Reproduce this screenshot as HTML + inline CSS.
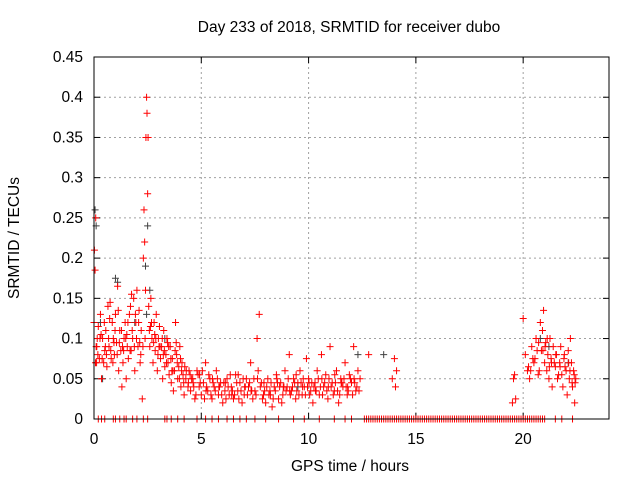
<!DOCTYPE html>
<html><head><meta charset="utf-8"><style>
html,body{margin:0;padding:0;background:#fff;}
svg{display:block;font-family:"Liberation Sans",sans-serif;}
</style></head><body>
<svg id="c" width="640" height="480">
<text x="349" y="32" font-size="15.5" text-anchor="middle">Day 233 of 2018, SRMTID for receiver dubo</text>
<text x="350" y="471" font-size="15.5" text-anchor="middle">GPS time / hours</text>
<text x="19" y="238" font-size="15.5" text-anchor="middle" transform="rotate(-90 19 238)">SRMTID / TECUs</text>
<g id="grid"></g>
<g id="ticks"></g>
<g id="pts"></g>
<rect x="94" y="57" width="515" height="362" fill="none" stroke="#000" stroke-width="1"/>
</svg>
<script>
const xTicks=[0,5,10,15,20];
const yTicks=[0,0.05,0.1,0.15,0.2,0.25,0.3,0.35,0.4,0.45];
const yTickLabels=["0","0.05","0.1","0.15","0.2","0.25","0.3","0.35","0.4","0.45"];
const redX=[0.0,0.02,0.05,0.08,0.1,0.12,0.15,0.2,0.25,0.3,0.35,0.4,0.45,0.5,0.55,0.6,0.65,0.7,0.75,0.8,0.85,0.9,0.95,1.0,1.05,1.1,1.15,1.2,1.25,1.3,1.35,1.4,1.45,1.5,1.55,1.6,1.65,1.7,1.75,1.8,1.85,1.9,1.95,2.0,2.05,2.1,2.15,2.2,2.25,2.3,2.33,2.36,2.4,2.42,2.45,2.47,2.5,2.52,2.55,2.6,2.65,2.7,2.75,2.8,2.85,2.9,2.95,3.0,3.05,3.1,3.15,3.2,3.25,3.3,3.35,3.4,3.45,3.5,3.55,3.6,3.65,3.7,3.75,3.8,3.85,3.9,3.95,4.0,4.05,4.1,4.15,4.2,4.3,4.4,4.5,4.6,4.7,4.8,4.9,5.0,5.1,5.2,5.3,5.4,5.5,5.6,5.7,5.8,5.9,6.0,6.1,6.2,6.3,6.4,6.5,6.6,6.7,6.8,6.9,7.0,7.1,7.2,7.3,7.4,7.5,7.6,7.7,7.8,7.9,8.0,8.1,8.2,8.3,8.4,8.5,8.6,8.7,8.8,8.9,9.0,9.1,9.2,9.3,9.4,9.5,9.6,9.7,9.8,9.9,10.0,10.1,10.2,10.3,10.4,10.5,10.6,10.7,10.8,10.9,11.0,11.1,11.2,11.3,11.4,11.5,11.6,11.7,11.8,11.9,12.0,12.1,12.2,12.3,12.4,12.8,13.9,14.0,14.1,14.05,19.5,19.55,19.6,19.65,20.0,20.1,20.2,20.3,20.4,20.5,20.6,20.7,20.8,20.85,20.9,20.95,21.0,21.05,21.1,21.15,21.2,21.25,21.3,21.35,21.4,21.5,21.55,21.6,21.7,21.75,21.8,21.85,21.9,22.0,22.05,22.1,22.15,22.2,22.25,22.3,22.35,22.4,22.45,
4.55,4.65,4.75,4.85,4.95,5.05,5.15,5.25,5.35,5.45,5.55,5.65,5.75,5.85,5.95,6.05,6.15,6.25,6.35,6.45,6.55,6.65,6.75,6.85,6.95,7.05,7.15,7.25,7.35,7.45,7.55,7.65,7.75,7.85,7.95,8.05,8.15,8.25,8.35,8.45,8.55,8.65,8.75,8.85,8.95,9.05,9.15,9.25,9.35,9.45,9.55,9.65,9.75,9.85,9.95,10.05,10.15,10.25,10.35,10.45,10.55,10.65,10.75,10.85,10.95,11.05,11.15,11.25,11.35,11.45,11.55,11.65,11.75,11.85,11.95,12.05,12.15,12.25,12.35,
0.07,0.18,0.28,0.38,0.48,0.58,0.68,0.78,0.88,0.98,1.08,1.18,1.28,1.38,1.48,1.58,1.68,1.78,1.88,1.98,2.08,2.18,2.28,2.38,2.58,2.68,2.78,2.88,2.98,3.08,3.18,3.28,3.38,3.48,3.58,3.68,3.78,3.88,3.98,4.08,4.18,4.28,4.38,4.48,
20.25,20.45,20.65,20.75,21.02,21.22,21.45,21.65,21.95,22.12,22.28,22.38,
0.13,0.33,0.53,0.73,0.93,1.13,1.33,1.53,1.73,1.93,2.13,2.63,2.83,3.03,3.23,3.43,3.63,3.83,4.03,4.23,4.43,
4.62,4.92,5.22,5.52,5.82,6.12,6.42,6.72,7.02,7.32,7.62,7.92,8.22,8.52,8.82,9.12,9.42,9.72,10.02,10.32,10.62,10.92,11.22,11.52,11.82,12.12,
20.35,20.55,20.72,20.92,21.12,21.32,21.52,21.72,21.92,22.18,22.42];
const redY=[.12,.21,.185,.25,.09,.07,.1,.115,.075,.13,.05,.1,.07,.085,.11,.065,.14,.09,.145,.075,.12,.1,.08,.13,.095,.165,.06,.11,.085,.04,.07,.1,.12,.05,.09,.075,.13,.14,.155,.1,.15,.06,.12,.16,.09,.135,.07,.11,.025,.2,.26,.22,.16,.35,.4,.38,.28,.35,.14,.09,.15,.1,.07,.12,.085,.13,.06,.1,.115,.075,.09,.05,.11,.065,.08,.1,.07,.055,.09,.045,.075,.035,.06,.12,.08,.05,.065,.09,.04,.07,.055,.03,.06,.045,.035,.05,.025,.06,.04,.03,.045,.07,.035,.05,.025,.04,.06,.03,.045,.02,.035,.05,.03,.04,.025,.055,.035,.045,.02,.03,.05,.04,.07,.025,.035,.1,.13,.045,.03,.02,.05,.035,.015,.04,.055,.025,.045,.03,.06,.04,.08,.035,.05,.025,.045,.06,.03,.04,.075,.05,.035,.02,.045,.06,.03,.08,.04,.055,.025,.09,.045,.035,.06,.02,.05,.04,.07,.03,.055,.045,.09,.035,.06,.05,.08,.05,.075,.06,.04,.02,.05,.055,.025,.125,.08,.06,.05,.09,.07,.1,.055,.12,.085,.11,.135,.07,.095,.06,.08,.05,.1,.075,.04,.09,.065,.08,.05,.07,.09,.055,.04,.075,.06,.03,.085,.05,.1,.07,.04,.06,.02,.05,
.05,.04,.03,.055,.045,.06,.025,.04,.055,.03,.045,.035,.05,.04,.03,.045,.025,.04,.055,.035,.03,.045,.025,.035,.05,.04,.03,.045,.035,.05,.03,.06,.04,.025,.035,.04,.03,.045,.025,.035,.045,.04,.02,.04,.035,.05,.03,.04,.045,.035,.03,.045,.05,.03,.04,.03,.045,.04,.035,.05,.04,.03,.045,.035,.05,.04,.03,.045,.035,.03,.045,.05,.04,.035,.05,.03,.045,.04,.035,
.07,.08,.1,.075,.12,.08,.1,.085,.07,.11,.08,.095,.11,.085,.1,.12,.085,.11,.09,.1,.12,.08,.09,.1,.11,.12,.095,.1,.08,.09,.1,.085,.07,.09,.075,.06,.085,.07,.05,.06,.045,.05,.04,.055,
.065,.075,.085,.06,.09,.065,.07,.055,.065,.07,.045,.055,
.09,.105,.09,.125,.095,.135,.09,.105,.085,.13,.095,.115,.105,.09,.08,.095,.06,.095,.075,.065,.06,
.045,.055,.035,.05,.04,.045,.03,.055,.04,.035,.05,.045,.03,.05,.04,.035,.055,.04,.045,.035,.05,.04,.055,.045,.04,.05,
.06,.075,.095,.085,.1,.07,.08,.065,.08,.06,.045];
const grayX=[0.05,0.1,0.3,1.0,1.1,2.4,2.5,2.45,2.6,3.3,0.4,1.9,12.3,13.5,20.8,21.2,22.1,9.5];
const grayY=[.26,.24,.12,.175,.17,.19,.24,.13,.16,.1,.05,.12,.08,.08,.1,.09,.07,.04];
const zeroX=[0.2,0.35,0.5,0.9,1.0,1.2,1.4,1.5,1.8,2.0,2.3,2.5,3.3,3.4,3.6,3.9,4.2,4.8,5.2,5.5,5.8,6.2,6.5,6.8,7.1,7.5,8.0,8.6,9.3,9.8,10.5,11.2,11.7,12.0,12.6,12.7,12.8,12.9,13.0,13.1,13.2,13.3,13.4,13.5,13.6,13.7,13.8,13.9,14.0,14.1,14.2,14.3,14.4,14.5,14.6,14.7,14.8,14.9,15.0,15.1,15.2,15.3,15.4,15.5,15.6,15.7,15.8,15.9,16.0,16.1,16.2,16.3,16.4,16.5,16.6,16.7,16.8,16.9,17.0,17.1,17.2,17.3,17.4,17.5,17.6,17.7,17.8,17.9,18.0,18.1,18.2,18.3,18.4,18.5,18.6,18.7,18.8,18.9,19.0,19.1,19.2,19.3,19.4,19.5,19.6,19.7,19.8,19.9,20.0,20.1,20.2,20.3,20.4,20.5,20.6,20.7,20.8,20.9,21.0,21.5,21.8,22.3];
const X0=94,X1=609,Y0=419,Y1=57;
const sx=v=>X0+v/24*(X1-X0);
const sy=v=>Y0-v/0.45*(Y0-Y1);
const NS='http://www.w3.org/2000/svg';
function mk(tag,attrs,parent){const e=document.createElementNS(NS,tag);for(const k in attrs)e.setAttribute(k,attrs[k]);parent.appendChild(e);return e;}
const grid=document.getElementById('grid'),ticks=document.getElementById('ticks'),pts=document.getElementById('pts');
xTicks.forEach(t=>{const x=sx(t);
 if(t>0){const g=mk('line',{x1:x,x2:x,y1:Y1,y2:Y0,stroke:'#a0a0a0','stroke-dasharray':'2,3'},grid);}
 mk('line',{x1:x,x2:x,y1:Y0,y2:Y0-6,stroke:'#000'},ticks);mk('line',{x1:x,x2:x,y1:Y1,y2:Y1+6,stroke:'#000'},ticks);
 const l=mk('text',{x:x,y:444,'font-size':15.5,'text-anchor':'middle'},ticks);l.textContent=t;
 });
yTicks.forEach((t,i)=>{const y=sy(t);
 if(t>0&&t<0.45){const g=mk('line',{x1:X0,x2:X1,y1:y,y2:y,stroke:'#a0a0a0','stroke-dasharray':'2,3'},grid);}
 mk('line',{x1:X0,x2:X0+6,y1:y,y2:y,stroke:'#000'},ticks);mk('line',{x1:X1,x2:X1-6,y1:y,y2:y,stroke:'#000'},ticks);
 const l=mk('text',{x:83,y:y+5,'font-size':15.5,'text-anchor':'end'},ticks);l.textContent=yTickLabels[i];
 });
function plus(x,y,c,name){const p=mk('path',{d:`M${x-3.5},${y}h7M${x},${y-3.5}v7`,stroke:c,'stroke-width':1,fill:'none'},pts);
 
 }
grayX.forEach((v,i)=>plus(sx(v),sy(grayY[i]),'#404040','gray-point'));
redX.forEach((v,i)=>plus(sx(v),sy(redY[i]),'#ff0000','red-point'));
zeroX.forEach(v=>plus(sx(v),sy(0),'#ff0000','zero-point'));
</script>
</body></html>
